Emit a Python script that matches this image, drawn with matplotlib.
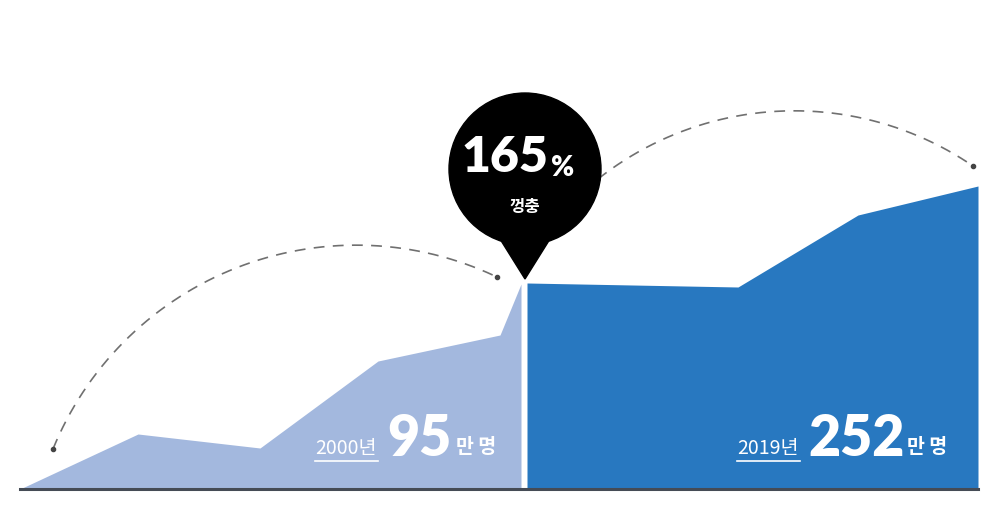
import numpy as np
import matplotlib.pyplot as plt
from matplotlib.patches import Circle, Polygon

plt.rcParams['font.family'] = ['Noto Sans CJK KR', 'DejaVu Sans']

# area series: x position (px-like units) and height above baseline
left_x = [20, 138, 260, 378, 500, 521]
left_h = [0, 55, 41, 128, 154, 205]
right_x = [527, 738, 858, 978]
right_h = [206, 202, 274, 303]

years = ["2000년", "2019년"]
counts = ["95", "252"]
unit = "만 명"
growth = "165"
growth_note = "껑충"

LEFT_C = "#a3b8de"
RIGHT_C = "#2878c0"
NUM_FONT = ["Lato", "DejaVu Sans"]


def arc_through(p1, p2, p3, n=200):
    """Circular arc through three points."""
    (x1, y1), (x2, y2), (x3, y3) = p1, p2, p3
    d = 2 * (x1 * (y2 - y3) + x2 * (y3 - y1) + x3 * (y1 - y2))
    ux = ((x1**2 + y1**2) * (y2 - y3) + (x2**2 + y2**2) * (y3 - y1) + (x3**2 + y3**2) * (y1 - y2)) / d
    uy = ((x1**2 + y1**2) * (x3 - x2) + (x2**2 + y2**2) * (x1 - x3) + (x3**2 + y3**2) * (x2 - x1)) / d
    r = np.hypot(x1 - ux, y1 - uy)
    a1 = np.arctan2(y1 - uy, x1 - ux)
    a3 = np.arctan2(y3 - uy, x3 - ux)
    if a3 > a1:
        a3 -= 2 * np.pi
    t = np.linspace(a1, a3, n)
    return ux + r * np.cos(t), uy + r * np.sin(t)


fig = plt.figure(figsize=(10, 5.1), dpi=100)
ax = fig.add_axes([0, 0, 1, 1])
ax.set_xlim(0, 1000)
ax.set_ylim(-20, 490)
ax.axis("off")

ax.fill_between(left_x + [left_x[-1]], left_h + [0], 0, color=LEFT_C, lw=0, zorder=1)
ax.fill_between(right_x, right_h, 0, color=RIGHT_C, lw=0, zorder=1)
ax.plot([20, 978], [0, 0], color="#454b55", lw=2.2, zorder=2)

# dashed arcs
ax_, ay_ = arc_through((53, 40), (300, 239), (497, 212))
ax.plot(ax_, ay_, color="#707070", lw=1.2, dashes=(6.5, 5), zorder=2)
ax.plot([53, 497], [40, 212], "o", color="#444444", ms=3, zorder=3)
bx_, by_ = arc_through((598, 310), (767, 377), (973, 323))
ax.plot(bx_, by_, color="#707070", lw=1.2, dashes=(6.5, 5), zorder=2)
ax.plot([973], [323], "o", color="#444444", ms=3, zorder=3)

# balloon
ax.add_patch(Circle((525, 320), 76, color="black", zorder=5))
ax.add_patch(Polygon([[500, 250], [550, 250], [525, 210]], closed=True, color="black", zorder=5))
ax.text(505, 332, growth, color="white", fontsize=36, fontweight="heavy",
        family=NUM_FONT, ha="center", va="center", zorder=6)
ax.text(551, 314, "%", color="white", fontsize=20, fontweight="heavy",
        family=NUM_FONT, ha="left", va="baseline", zorder=6)
ax.text(525, 283, growth_note, color="white", fontsize=12, fontweight="bold",
        ha="center", va="center", zorder=6)

# labels
for yr, cnt, x_yr, x_cnt, x_unit, w_yr in [
    (years[0], counts[0], 315, 387, 456, 63),
    (years[1], counts[1], 737, 808, 907, 63),
]:
    ax.text(x_yr, 41, yr, color="white", fontsize=14, ha="left", va="center", zorder=6)
    ax.plot([x_yr, x_yr + w_yr], [28, 28], color="white", lw=1.2, zorder=6)
    ax.text(x_cnt, 34, cnt, color="white", fontsize=40, fontweight="heavy",
            family=NUM_FONT, ha="left", va="baseline", zorder=6)
    ax.text(x_unit, 42, unit, color="white", fontsize=14, fontweight="bold",
            ha="left", va="center", zorder=6)

fig.savefig("out.png", dpi=100)
